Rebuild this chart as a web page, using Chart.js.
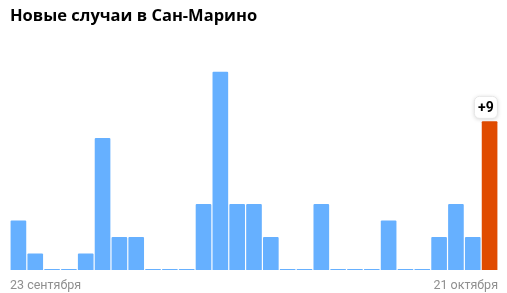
<!DOCTYPE html>
<html lang="ru">
<head>
<meta charset="utf-8">
<script src="https://cdn.jsdelivr.net/npm/chart.js@4.4.0/dist/chart.umd.min.js"></script>
<style>
  html, body { margin: 0; padding: 0; background: #fff; }
  #wrap { position: relative; width: 507px; height: 293px; }
</style>
</head>
<body>
<div id="wrap"><canvas id="chart"></canvas></div>
<script>
// ─── Data ─────────────────────────────────────────────
const chartTitle = 'Новые случаи в Сан-Марино';
const days = [
  '23.09', '24.09', '25.09', '26.09', '27.09', '28.09', '29.09', '30.09',
  '01.10', '02.10', '03.10', '04.10', '05.10', '06.10', '07.10', '08.10',
  '09.10', '10.10', '11.10', '12.10', '13.10', '14.10', '15.10', '16.10',
  '17.10', '18.10', '19.10', '20.10', '21.10'
];
const newCases = [3, 1, 0, 0, 1, 8, 2, 2, 0, 0, 0, 4, 12, 4, 4, 2, 0, 0, 4, 0, 0, 0, 3, 0, 0, 2, 4, 2, 9];
const edgeLabels = ['23 сентября', '21 октября'];

const blue = '#66b0ff';
const orange = '#e04b00';
const font = 'Roboto, "Noto Sans", sans-serif';

// last day is highlighted, the rest are plain
const barColors = newCases.map((v, i) => i === newCases.length - 1 ? orange : blue);

// ─── "+N" badge above the last bar ───────────────────
const lastBadge = {
  id: 'lastBadge',
  afterDatasetsDraw(chart) {
    const meta = chart.getDatasetMeta(0);
    const bar = meta.data[meta.data.length - 1];
    const ctx = chart.ctx;
    const text = '+' + newCases[newCases.length - 1];
    const w = 23, h = 22;
    const right = bar.x + bar.width / 2;
    const x = right - w, y = bar.y - 3 - h;

    ctx.save();
    ctx.shadowColor = 'rgba(0,0,0,.18)';
    ctx.shadowBlur = 4;
    ctx.shadowOffsetY = 1;
    ctx.fillStyle = '#fff';
    ctx.beginPath();
    ctx.roundRect(x, y, w, h, 5);
    ctx.fill();
    ctx.shadowColor = 'transparent';
    ctx.strokeStyle = '#e6e6e6';
    ctx.lineWidth = 1;
    ctx.stroke();
    ctx.fillStyle = '#000';
    ctx.font = 'bold 14px ' + font;
    ctx.textAlign = 'center';
    ctx.textBaseline = 'middle';
    ctx.fillText(text, x + w / 2, y + h / 2 + 1);
    ctx.restore();
  }
};

new Chart(document.getElementById('chart'), {
  type: 'bar',
  data: {
    labels: days,
    datasets: [{
      data: newCases,
      backgroundColor: barColors,
      categoryPercentage: 1,
      barPercentage: 0.93,
      borderRadius: 1,
      borderSkipped: 'bottom',
      minBarLength: 1,
    }],
  },
  options: {
    responsive: true,
    maintainAspectRatio: false,
    animation: false,
    layout: { padding: { left: 10, right: 9, top: 0, bottom: 0 } },
    plugins: {
      legend: { display: false },
      tooltip: { enabled: false },
      title: {
        display: true,
        text: chartTitle,
        align: 'start',
        color: '#000',
        font: { family: '"Open Sans", sans-serif', size: 16.5, weight: 'bold', lineHeight: 1.2 },
        padding: { top: 6, bottom: 13 },
      },
    },
    scales: {
      x: { display: false },
      // separate two-label axis so the dates sit flush with the plot edges
      edge: {
        type: 'category',
        position: 'bottom',
        labels: edgeLabels,
        offset: false,
        grid: { display: false, drawTicks: false },
        border: { display: false },
        afterFit: (axis) => { axis.height = 23; },
        ticks: {
          align: 'inner',
          autoSkip: false,
          maxRotation: 0,
          padding: 8,
          color: '#8f8f8f',
          font: { family: font, size: 12.5 },
        },
      },
      y: { display: false, min: 0, max: 14 },
    },
  },
  plugins: [lastBadge],
});
</script>
</body>
</html>
